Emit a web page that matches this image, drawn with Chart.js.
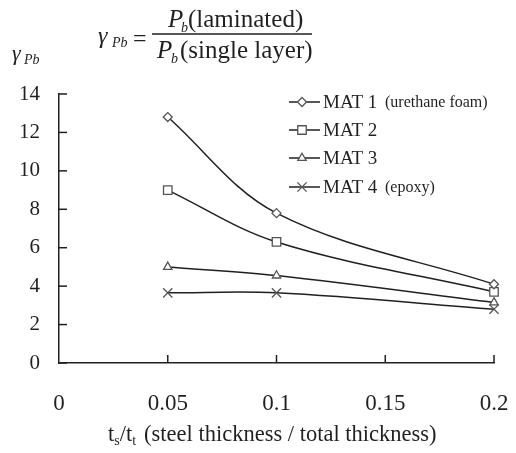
<!DOCTYPE html>
<html>
<head>
<meta charset="utf-8">
<script src="https://cdn.jsdelivr.net/npm/chart.js@4/dist/chart.umd.min.js"></script>
<style>
  html, body { margin: 0; padding: 0; background: #fff; }
  #wrap { width: 516px; height: 453px; position: relative; }
</style>
</head>
<body>
<div id="wrap"><canvas id="chart"></canvas></div>
<script>
const ratios = [0.05, 0.1, 0.2];
const mat1 = [12.8, 7.8, 4.1];
const mat2 = [9.0, 6.3, 3.7];
const mat3 = [5.0, 4.55, 3.15];
const mat4 = [3.65, 3.65, 2.8];
const xTicks = [0, 0.05, 0.1, 0.15, 0.2];
const yTicks = [0, 2, 4, 6, 8, 10, 12, 14];
const seriesNames = ['MAT 1', 'MAT 2', 'MAT 3', 'MAT 4'];
const seriesNotes = ['(urethane foam)', '', '', '(epoxy)'];

const ink = '#231f20';
const markInk = '#555555';
const serif = "'Liberation Serif', 'Times New Roman', serif";

function pts(ys) {
  return ratios.map((x, i) => ({ x: x, y: ys[i] }));
}

function series(label, ys, style, radius) {
  return {
    label: label,
    data: pts(ys),
    borderColor: ink,
    borderWidth: 1.5,
    tension: 0.35,
    pointStyle: style,
    pointRadius: radius,
    pointBorderColor: markInk,
    pointBackgroundColor: '#fff',
    pointBorderWidth: 1.3,
    clip: false
  };
}

// inward tick marks, formula, legend and x axis title
const decor = {
  id: 'decor',
  afterDraw(chart) {
    const ctx = chart.ctx;
    const xs = chart.scales.x;
    const ys = chart.scales.y;
    const area = chart.chartArea;
    ctx.save();
    ctx.strokeStyle = ink;
    ctx.lineWidth = 1.5;
    yTicks.forEach(v => {
      const py = ys.getPixelForValue(v);
      ctx.beginPath();
      ctx.moveTo(area.left, py);
      ctx.lineTo(area.left + 8, py);
      ctx.stroke();
    });
    xTicks.forEach(v => {
      if (v === 0) return;
      const px = xs.getPixelForValue(v);
      ctx.beginPath();
      ctx.moveTo(px, area.bottom);
      ctx.lineTo(px, area.bottom - 8);
      ctx.stroke();
    });

    ctx.fillStyle = ink;
    ctx.textBaseline = 'alphabetic';
    ctx.textAlign = 'left';

    // y label
    ctx.font = 'italic 22px ' + serif;
    ctx.fillText('\u03b3', 12, 60);
    ctx.font = 'italic 14px ' + serif;
    ctx.fillText('Pb', 24, 64);

    // formula
    ctx.font = 'italic 24px ' + serif;
    ctx.fillText('\u03b3', 98, 43);
    ctx.font = 'italic 14px ' + serif;
    ctx.fillText('Pb', 112, 47);
    ctx.font = '24px ' + serif;
    ctx.fillText('=', 133, 46);
    ctx.lineWidth = 1.3;
    ctx.beginPath();
    ctx.moveTo(152, 34);
    ctx.lineTo(312, 34);
    ctx.stroke();
    ctx.font = 'italic 25px ' + serif;
    ctx.fillText('P', 168, 27);
    ctx.fillText('P', 157, 58);
    ctx.font = 'italic 14px ' + serif;
    ctx.fillText('b', 181, 32);
    ctx.fillText('b', 171, 63);
    ctx.font = '25px ' + serif;
    ctx.fillText('(laminated)', 188, 27);
    ctx.fillText('(single layer)', 180, 58);

    // legend
    const rowsY = [102, 130, 158, 187];
    chart.data.datasets.forEach((ds, i) => {
      const y = rowsY[i];
      ctx.strokeStyle = ink;
      ctx.lineWidth = 1.5;
      ctx.beginPath();
      ctx.moveTo(289, y);
      ctx.lineTo(320, y);
      ctx.stroke();
      ctx.strokeStyle = markInk;
      ctx.fillStyle = '#fff';
      ctx.lineWidth = 1.3;
      Chart.helpers.drawPoint(ctx, { pointStyle: ds.pointStyle, radius: ds.pointRadius, rotation: 0, borderWidth: 1.3 }, 302, y);
      ctx.fillStyle = ink;
      ctx.textBaseline = 'middle';
      ctx.font = '19px ' + serif;
      ctx.fillText(seriesNames[i], 323, y + 1);
      if (seriesNotes[i]) {
        ctx.font = '16px ' + serif;
        ctx.fillText(seriesNotes[i], 385, y + 1);
      }
    });

    // x axis title with subscripts
    ctx.textBaseline = 'alphabetic';
    let x = 108;
    const base = 441;
    const part = (txt, size, dy) => {
      ctx.font = size + 'px ' + serif;
      ctx.fillText(txt, x, base + dy);
      x += ctx.measureText(txt).width;
    };
    part('t', 22.5, 0);
    part('s', 14, 4);
    part('/t', 22.5, 0);
    part('t', 14, 4);
    x += 8;
    part('(steel thickness / total thickness)', 22.5, 0);
    ctx.restore();
  }
};

new Chart(document.getElementById('chart'), {
  type: 'line',
  data: {
    datasets: [
      series(seriesNames[0], mat1, 'rectRot', 4.5),
      series(seriesNames[1], mat2, 'rect', 6),
      series(seriesNames[2], mat3, 'triangle', 4.8),
      series(seriesNames[3], mat4, 'crossRot', 6.5)
    ]
  },
  options: {
    responsive: true,
    maintainAspectRatio: false,
    animation: false,
    layout: { padding: { left: 0, top: 94, right: 22, bottom: 0 } },
    plugins: {
      legend: { display: false },
      tooltip: { enabled: false }
    },
    scales: {
      x: {
        type: 'linear',
        min: 0,
        max: 0.2,
        afterFit: s => { s.height = 90; s.paddingLeft = 0; s.paddingRight = 0; },
        afterBuildTicks: s => { s.ticks = xTicks.map(v => ({ value: v })); },
        grid: { display: true, drawOnChartArea: false, drawTicks: false },
        border: { display: true, color: ink, width: 1.5 },
        ticks: {
          padding: 27,
          color: ink,
          font: { family: serif, size: 23 },
          callback: v => String(v)
        }
      },
      y: {
        min: 0,
        max: 14,
        afterFit: s => { s.width = 59; s.paddingTop = 0; s.paddingBottom = 0; },
        afterBuildTicks: s => { s.ticks = yTicks.map(v => ({ value: v })); },
        grid: { display: true, drawOnChartArea: false, drawTicks: false },
        border: { display: true, color: ink, width: 1.5 },
        ticks: {
          padding: 19,
          color: ink,
          font: { family: serif, size: 21 },
          callback: v => String(v)
        }
      }
    }
  },
  plugins: [decor]
});
</script>
</body>
</html>
